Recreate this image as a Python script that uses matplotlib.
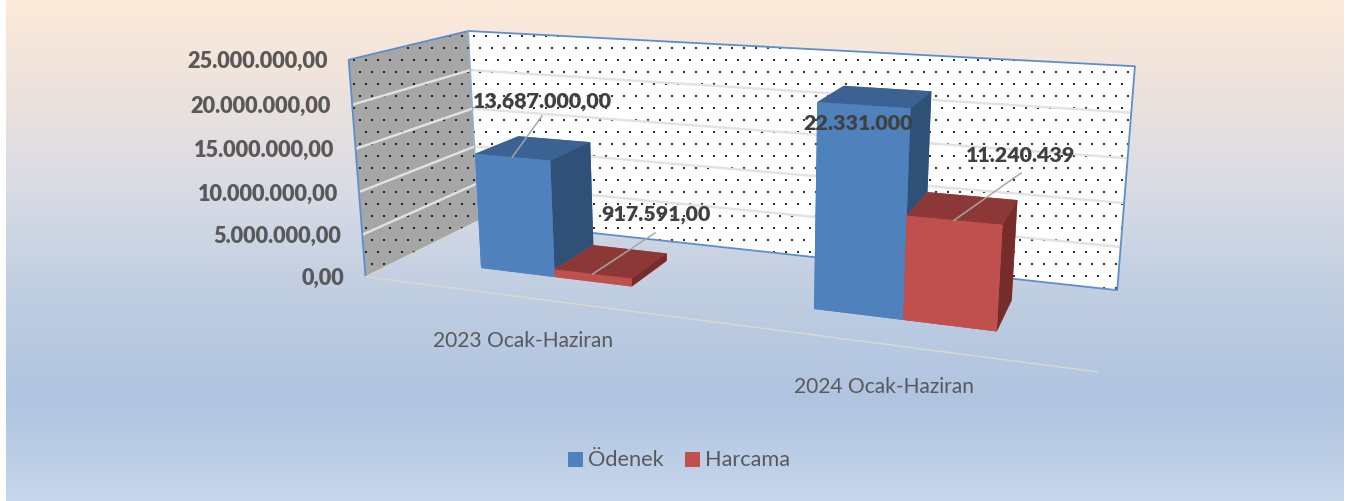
import numpy as np
import matplotlib
matplotlib.use("Agg")
import matplotlib.pyplot as plt
import matplotlib.hatch as mhatch
from matplotlib.patches import Patch
from mpl_toolkits.mplot3d import proj3d
from mpl_toolkits.mplot3d.art3d import Poly3DCollection

categories = ["2023 Ocak-Haziran", "2024 Ocak-Haziran"]
series_names = ["Ödenek", "Harcama"]
odenek = [13687000, 22331000]
harcama = [917591, 11240439]
odenek_labels = ["13.687.000,00", "22.331.000"]
harcama_labels = ["917.591,00", "11.240.439"]
y_ticks = [0, 5000000, 10000000, 15000000, 20000000, 25000000]
y_tick_labels = ["0,00", "5.000.000,00", "10.000.000,00", "15.000.000,00", "20.000.000,00", "25.000.000,00"]

W, H = 1359, 501
plt.rcParams["font.family"] = ["Lato", "DejaVu Sans"]
plt.rcParams["hatch.linewidth"] = 0.2
# smaller dots for the wall pattern
mhatch.SmallFilledCircles.size = 0.08

# camera fitted to the corners of the chart box (x: 0-2, y: 0-1, z: 0-1)
box = [(0, 0, 0), (0, 0, 1), (0, 1, 0), (0, 1, 1), (2, 1, 0), (2, 1, 1), (2, 0, 0)]
box_px = [(365, 277), (349, 60), (479, 220), (468, 31), (1117, 291), (1135, 66), (1097, 371)]
rows, rhs = [], []
for (a, b, c), (u, v) in zip(box, box_px):
    rows.append([a, b, c, 1, 0, 0, 0, 0, -u * a, -u * b, -u * c])
    rows.append([0, 0, 0, 0, a, b, c, 1, -v * a, -v * b, -v * c])
    rhs += [u, v]
p = np.linalg.lstsq(np.array(rows, float), np.array(rhs, float), rcond=None)[0]
M = np.array([[p[0], p[1], p[2] / 25e6, p[3]],
              [p[4], p[5], p[6] / 25e6, p[7]],
              [-0.1, 1, -1e-9, 0],
              [p[8], p[9], p[10] / 25e6, 1.0]])

fig = plt.figure(figsize=(W / 72, H / 72), dpi=72, facecolor="white")

# background gradient
bg = fig.add_axes([6 / W, 0, (1344 - 6) / W, 1], zorder=0)
stops = np.array([[253, 234, 218], [243, 229, 219], [214, 218, 229], [190, 205, 225], [176, 196, 224], [198, 214, 235]]) / 255
stop_y = [0, 60, 200, 300, 400, 500]
grad = np.stack([np.interp(np.arange(H), stop_y, stops[:, i]) for i in range(3)], axis=1)[:, None, :]
bg.imshow(grad, aspect="auto")
bg.axis("off")

ax = fig.add_axes([0, 0, 1, 1], projection="3d", zorder=1)
ax.set_axis_off()
ax.patch.set_visible(False)
ax.computed_zorder = False
ax.apply_aspect = lambda position=None: None
ax.get_proj = lambda: M


def to_px(x, y, z):
    a, b, _ = proj3d.proj_transform(x, y, z, M)
    return float(a), float(b)


def line3(pts, color, lw, zorder):
    xy = [to_px(*q) for q in pts]
    ax.add_line(plt.Line2D([q[0] for q in xy], [q[1] for q in xy], color=color, lw=lw, zorder=zorder))


top = y_ticks[-1]
back_wall = [[(0, 1, 0), (2, 1, 0), (2, 1, top), (0, 1, top)]]
left_wall = [[(0, 0, 0), (0, 1, 0), (0, 1, top), (0, 0, top)]]
ax.add_collection3d(Poly3DCollection(back_wall, facecolor="white", edgecolor="black", hatch=".", linewidth=0, zorder=1))
ax.add_collection3d(Poly3DCollection(left_wall, facecolor="#A6A6A6", edgecolor="black", hatch=".", linewidth=0, zorder=1))

# gridlines
for t in y_ticks[1:-1]:
    line3([(0, 0, t), (0, 1, t), (2, 1, t)], "#E2E2E2", 2.4, 2)

# wall borders and floor edge
line3([(0, 0, 0), (0, 0, top), (0, 1, top), (2, 1, top), (2, 1, 0), (0, 1, 0)], "#5B8FCB", 1.8, 3)
line3([(0, 1, 0), (0, 1, top)], "#8FB3DC", 1.2, 3)
line3([(0, 0, 0), (0, 1, 0)], "#D9D9D0", 1.0, 3)
line3([(0, 0, 0), (2, 0, 0)], "#D9D9D0", 1.4, 3)

# bars
bar_w = 0.238
bar_d = 0.405
bar_y = 0.296
group_x = [0.504, 1.504]
blue_faces = ["#4F81BD", "#3C6293", "#4F81BD", "#4F81BD", "#4F81BD", "#2F5077"]
red_faces = ["#C0504D", "#8C3836", "#C0504D", "#C0504D", "#C0504D", "#752C2A"]
for i, gx in enumerate(group_x):
    ax.bar3d(gx - bar_w, bar_y, 0, bar_w, bar_d, odenek[i], color=blue_faces, shade=False, linewidth=0, zorder=4 + 2 * i)
    ax.bar3d(gx, bar_y, 0, bar_w, bar_d, harcama[i], color=red_faces, shade=False, linewidth=0, zorder=5 + 2 * i)

ax.viewLim.intervalx = (0, W)
ax.viewLim.intervaly = (H, 0)

# y tick labels
for t, s in zip(y_ticks, y_tick_labels):
    a, b = to_px(0, 0, t)
    ax.text2D(a - 21, b + 2, s, transform=ax.transData, ha="right", va="center", fontsize=21.6, fontweight=800, color="#595959")

# category labels
for s, (dx, dy) in zip(categories, [(523, 341), (884, 387)]):
    ax.text2D(dx, dy, s, transform=ax.transData, ha="center", va="center", fontsize=21, color="#595959")

# data labels and leader lines
label_pos = [(542, 101), (656, 215), (858, 123), (1021, 156)]
label_txt = [odenek_labels[0], harcama_labels[0], odenek_labels[1], harcama_labels[1]]
for (a, b), s in zip(label_pos, label_txt):
    ax.text2D(a, b, s, transform=ax.transData, ha="center", va="center", fontsize=21.4, fontweight=800, color="#404040", zorder=20)
ends = [(542, 116), (655, 233), None, (1021, 173)]
tops = [(group_x[0] - bar_w / 2, bar_y, odenek[0]), (group_x[0] + bar_w / 2, bar_y, harcama[0]),
        None, (group_x[1] + bar_w / 2, bar_y, harcama[1])]
for e, t in zip(ends, tops):
    if e is None:
        continue
    a, b = to_px(*t)
    ax.add_line(plt.Line2D([a, e[0]], [b, e[1]], color="#A6A6A6", lw=1.5, zorder=19))

fig.legend(handles=[Patch(color="#4F81BD", label=series_names[0]), Patch(color="#C0504D", label=series_names[1])],
           loc="center", bbox_to_anchor=(679 / W, 1 - 460.5 / H), ncol=2, frameon=False, fontsize=21.8,
           handlelength=0.65, handleheight=0.65, handletextpad=0.3, columnspacing=0.95, labelcolor="#595959")

fig.savefig("out.png", dpi=72, facecolor="white")
